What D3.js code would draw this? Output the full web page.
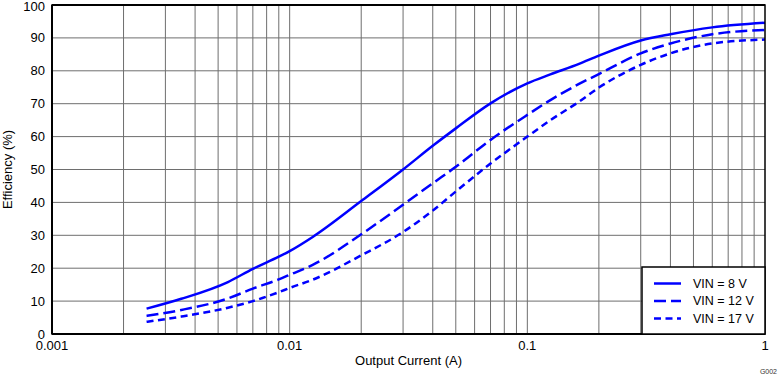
<!DOCTYPE html>
<html>
<head>
<meta charset="utf-8">
<script src="https://cdn.jsdelivr.net/npm/d3@7"></script>
<style>
  body { margin: 0; background: #fff; }
  svg text { font-family: "Liberation Sans", Arial, sans-serif; fill: #000; }
</style>
</head>
<body>
<div id="chart"></div>
<script>
// values
const current = [0.0025, 0.0035, 0.0055, 0.007, 0.009, 0.01, 0.0125, 0.02, 0.03, 0.04, 0.05, 0.07, 0.1, 0.125, 0.165, 0.2, 0.3, 0.4, 0.6, 1.0];
const vin8  = [7.7, 10.7, 15.8, 19.8, 23.5, 25.2, 29.5, 40.4, 50.0, 57.2, 62.5, 70.1, 76.2, 78.9, 82.1, 84.6, 89.2, 91.1, 93.2, 94.6];
const vin12 = [5.5, 7.3, 10.8, 13.8, 16.6, 18.0, 21.0, 30.3, 39.3, 45.8, 50.8, 59.0, 66.6, 71.1, 76.0, 79.0, 85.3, 88.3, 91.1, 92.4];
const vin17 = [3.7, 5.3, 8.0, 10.0, 12.7, 14.0, 16.5, 23.9, 31.0, 37.5, 43.3, 51.8, 60.0, 65.0, 70.6, 74.9, 81.8, 85.3, 88.3, 89.5];
const seriesNames = ["VIN = 8 V", "VIN = 12 V", "VIN = 17 V"];
const xTicks = [0.001, 0.01, 0.1, 1];
const xTickLabels = ["0.001", "0.01", "0.1", "1"];
const yTicks = d3.range(0, 101, 10);

const width = 782, height = 379;
const margin = { top: 5, right: 17, bottom: 45, left: 52 };

const svg = d3.select("#chart").append("svg")
    .attr("width", width)
    .attr("height", height);

const x = d3.scaleLog()
    .domain([0.001, 1])
    .range([margin.left, width - margin.right]);

const y = d3.scaleLinear()
    .domain([0, 100])
    .range([height - margin.bottom, margin.top]);

// grid: every 1..9 in each decade, every 10 %
const minor = [];
[0.001, 0.01, 0.1].forEach(d => { for (let k = 1; k <= 9; k++) minor.push(d * k); });

svg.append("g").selectAll("line")
    .data(minor.slice(1))
    .enter().append("line")
    .attr("x1", d => x(d)).attr("x2", d => x(d))
    .attr("y1", y(0)).attr("y2", y(100))
    .attr("stroke", "#6e6e6e")
    .attr("stroke-width", 1);

svg.append("g").selectAll("line")
    .data(yTicks.slice(1, -1))
    .enter().append("line")
    .attr("x1", x(0.001)).attr("x2", x(1))
    .attr("y1", d => y(d)).attr("y2", d => y(d))
    .attr("stroke", "#6e6e6e")
    .attr("stroke-width", 1);

// curves
const data = [vin8, vin12, vin17].map(v => v.map((e, i) => [current[i], e]));
const dashes = [null, "12,5", "7,4.5"];

const line = d3.line()
    .curve(d3.curveMonotoneX)
    .x(d => x(d[0]))
    .y(d => y(d[1]));

svg.append("g").selectAll("path")
    .data(data)
    .enter().append("path")
    .attr("d", line)
    .attr("fill", "none")
    .attr("stroke", "#0000ff")
    .attr("stroke-width", 2.5)
    .attr("stroke-dasharray", (d, i) => dashes[i]);

// frame
svg.append("rect")
    .attr("x", x(0.001)).attr("y", y(100))
    .attr("width", x(1) - x(0.001)).attr("height", y(0) - y(100))
    .attr("fill", "none")
    .attr("stroke", "#000")
    .attr("stroke-width", 1.5);
svg.append("line")
    .attr("x1", x(0.001)).attr("x2", x(0.001))
    .attr("y1", y(100)).attr("y2", y(0))
    .attr("stroke", "#000").attr("stroke-width", 2);
svg.append("line")
    .attr("x1", x(0.001)).attr("x2", x(1))
    .attr("y1", y(0)).attr("y2", y(0))
    .attr("stroke", "#000").attr("stroke-width", 2);
svg.append("line")
    .attr("x1", x(0.001)).attr("x2", x(1))
    .attr("y1", y(100)).attr("y2", y(100))
    .attr("stroke", "#000").attr("stroke-width", 2);

// tick labels
svg.append("g").selectAll("text")
    .data(yTicks)
    .enter().append("text")
    .attr("x", x(0.001) - 7)
    .attr("y", d => y(d))
    .attr("dy", d => d === 100 ? "0.45em" : "0.35em")
    .attr("text-anchor", "end")
    .attr("font-size", 13)
    .text(d => d);

svg.append("g").selectAll("text")
    .data(xTicks)
    .enter().append("text")
    .attr("x", d => x(d))
    .attr("y", y(0) + 16)
    .attr("text-anchor", "middle")
    .attr("font-size", 13)
    .text((d, i) => xTickLabels[i]);

// axis titles
svg.append("text")
    .attr("x", (x(0.001) + x(1)) / 2)
    .attr("y", 365)
    .attr("text-anchor", "middle")
    .attr("font-size", 13)
    .text("Output Current (A)");

svg.append("text")
    .attr("transform", `translate(12,${(y(0) + y(100)) / 2}) rotate(-90)`)
    .attr("text-anchor", "middle")
    .attr("font-size", 13)
    .text("Efficiency (%)");

svg.append("text")
    .attr("x", 777)
    .attr("y", 374)
    .attr("text-anchor", "end")
    .attr("font-size", 7)
    .style("fill", "#333")
    .text("G002");

// legend
const lx = 642, ly = 267;
svg.append("rect")
    .attr("x", lx).attr("y", ly)
    .attr("width", x(1) - lx).attr("height", y(0) - ly)
    .attr("fill", "#fff")
    .attr("stroke", "#000")
    .attr("stroke-width", 1.5);

const leg = svg.append("g").selectAll("g")
    .data(seriesNames)
    .enter().append("g")
    .attr("transform", (d, i) => `translate(${lx},${ly + 16.5 + i * 17.5})`);

leg.append("line")
    .attr("x1", 12).attr("x2", 39)
    .attr("stroke", "#0000ff")
    .attr("stroke-width", 2.5)
    .attr("stroke-dasharray", (d, i) => dashes[i]);

leg.append("text")
    .attr("x", 51)
    .attr("dy", "0.35em")
    .attr("font-size", 12.5)
    .text(d => d);
</script>
</body>
</html>
